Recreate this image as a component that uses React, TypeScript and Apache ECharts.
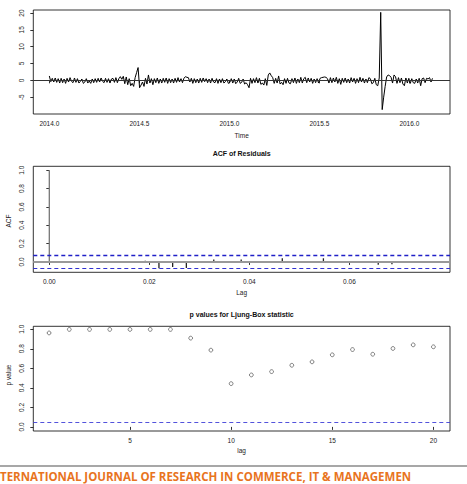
import React, { useEffect, useRef } from "react";
import * as echarts from "echarts";

// ---- Data ----
const residStart = 2014.0;
const residStepDays = 3;
const daysPerYear = 365;
const residuals: number[] = [
  1.3, -0.4, 0.6, -0.5, 0.7, -0.6, 0.5, -0.8, 0.6, -0.7,
  0.4, -0.9, 0.6, -0.5, 0.8, -0.3, -0.7, 0.7, -0.6, 0.5,
  -0.8, -0.3, 0.4, -0.9, -0.5, 0.5, -0.8, -0.2, -0.9, 0.4,
  -0.7, 0.5, -0.6, 0.6, -0.5, 0.7, -0.3, -0.7, 0.6, -0.6,
  0.5, -0.8, 0.4, 0.6, -0.6, 0.8, -0.7, 0.5, 1.1, 0.3,
  1.2, -1.0, 1.0, -1.3, 0.5, -1.6, -0.9, -1.8, 0.8, 2.3,
  3.8, -2.2, -1.4, -0.5, -1.8, 0.6, -1.1, 1.6, -0.8, 0.5,
  -1.3, 0.5, -0.7, 0.7, -0.9, 0.4, -0.8, 0.6, -0.6, 0.7,
  -0.9, 0.5, -0.7, 0.4, -0.8, 0.6, -0.6, 0.8, -0.5, 0.5,
  -0.7, 0.6, 1.1, 0.9, 0.8, -0.5, 0.6, -0.9, 0.5, -0.7,
  0.4, -0.8, 0.6, -0.6, 0.7, -0.4, 0.5, -0.7, 0.4, -0.8,
  0.6, -0.5, -0.7, 0.5, -0.9, 0.4, -0.7, 0.5, -0.8, -0.4,
  0.4, -0.9, -0.6, 0.5, -0.8, 0.4, -1.0, -0.5, 0.6, -0.9,
  -0.6, 0.4, -1.1, -0.7, -1.3, -2.2, 0.6, -0.9, 0.5, -0.7,
  0.8, -0.8, 0.6, -1.2, -0.8, -1.4, 0.5, -1.5, 1.6, 2.2,
  1.4, 0.8, -0.9, 0.6, -0.8, 1.3, -1.1, -0.6, -1.3, 0.5,
  -0.9, 0.6, -0.8, -1.0, 0.5, -0.7, 0.7, -0.9, 0.4, -0.7,
  0.9, -0.8, 0.5, 0.9, -0.7, 0.7, -0.5, 0.6, -0.9, 0.4,
  -0.7, 0.5, -0.8, 0.6, 0.8, 0.9, 1.0, 0.9, 0.5, -0.8,
  0.8, -0.7, 0.7, -0.5, 0.9, -0.9, 0.5, -1.2, 0.6, -0.6,
  0.7, -0.7, 0.4, -0.8, 0.8, -0.5, 0.6, -0.9, 0.5, -0.7,
  0.9, -0.5, 0.6, -0.8, 0.4, -0.7, 0.8, 0.5, -1.0, -0.7,
  0.6, -1.3, -1.6, 0.7, 20.2, -8.7, -5.0, -1.8, 1.0, 1.6,
  1.4, 0.9, -0.8, 1.6, 1.1, -0.9, 0.8, -0.7, 0.7, -1.1,
  -1.6, 0.7, -0.8, 0.6, -0.9, 0.5, -0.7, -0.9, 0.4, -0.8,
  0.6, -1.6, 0.5, 0.7, -0.7, 0.6, 0.4, 0.8, -0.5, 0.6,
];
const timeTicks = [2014.0, 2014.5, 2015.0, 2015.5, 2016.0];
const residTicks = [-5, 0, 5, 10, 15, 20];

const acfLags = [0, 1, 2, 3, 4, 5, 6, 7, 8, 9, 10, 11, 12, 13, 14, 15, 16, 17, 18, 19, 20, 21, 22, 23, 24, 25, 26, 27, 28];
const acfValues = [
  1.0, 0.003, -0.002, 0.008, 0.004, -0.002, -0.004, 0.012, -0.068, -0.055,
  -0.066, -0.005, 0.026, 0.01, 0.026, 0.002, -0.006, 0.04, 0.008, 0.01,
  0.04, -0.006, 0.01, 0.002, -0.03, -0.025, 0.01, -0.012, -0.012,
];
const acfBound = 0.075;
const lagTicks = [0, 0.02, 0.04, 0.06];
const acfTicks = [0, 0.2, 0.4, 0.6, 0.8, 1.0];

const lbLags = [1, 2, 3, 4, 5, 6, 7, 8, 9, 10, 11, 12, 13, 14, 15, 16, 17, 18, 19, 20];
const lbPValues = [
  0.962, 0.998, 0.998, 0.998, 0.998, 0.998, 0.998, 0.909, 0.786, 0.443,
  0.532, 0.566, 0.631, 0.666, 0.738, 0.792, 0.744, 0.803, 0.84, 0.82,
];
const lbLevel = 0.05;
const lbLagTicks = [5, 10, 15, 20];
const pTicks = [0, 0.2, 0.4, 0.6, 0.8, 1.0];

const footerText = "TERNATIONAL JOURNAL OF RESEARCH IN COMMERCE, IT & MANAGEMEN";

// ---- Chart ----
const FONT = "'Liberation Sans', Arial, sans-serif";
const GL = 33.3;
const GW = 416.7;
const CX = GL + GW / 2;

function axis(gridIndex: number, min: number, max: number, ticks: number[], fmt: (v: number) => string, margin: number, rotate = 0) {
  return {
    type: "value",
    gridIndex,
    min,
    max,
    axisLine: { show: false },
    splitLine: { show: false },
    axisTick: { show: true, inside: false, length: 3, customValues: ticks, lineStyle: { color: "#000", width: 0.8 } },
    axisLabel: { customValues: ticks, formatter: fmt, fontSize: 6.5, color: "#222", margin, rotate, fontFamily: FONT },
  };
}

export default function App() {
  const ref = useRef<HTMLDivElement>(null);
  useEffect(() => {
    if (!ref.current) return;
    const chart = echarts.init(ref.current, null, { renderer: "svg" });
    const gridStyle = { show: true, borderColor: "#000", borderWidth: 0.8, backgroundColor: "transparent" };
    const residData = residuals.map((r, i) => [residStart + (i * residStepDays) / daysPerYear, r]);
    const acfData = acfLags.map((l, i) => ({
      value: [l / daysPerYear, acfValues[i]],
      itemStyle: { color: i === 0 ? "#777" : "#222" },
    }));
    const lbData = lbLags.map((l, i) => [l, lbPValues[i]]);
    const option: any = {
      animation: false,
      backgroundColor: "#fff",
      textStyle: { fontFamily: FONT },
      grid: [
        { left: GL, top: 10, width: GW, height: 104, ...gridStyle },
        { left: GL, top: 166.3, width: GW, height: 106, ...gridStyle },
        { left: GL, top: 326.3, width: GW, height: 104.7, ...gridStyle },
      ],
      xAxis: [
        axis(0, 2013.911, 2016.226, timeTicks, (v) => v.toFixed(1), 5.5),
        axis(1, -0.0032, 0.0801, lagTicks, (v) => v.toFixed(2), 6),
        axis(2, 0.22, 20.82, lbLagTicks, (v) => String(v), 6),
      ],
      yAxis: [
        axis(0, -10.0, 20.9, residTicks, (v) => String(v), 8, 90),
        axis(1, -0.113, 1.043, acfTicks, (v) => v.toFixed(1), 8, 90),
        axis(2, -0.042, 1.03, pTicks, (v) => v.toFixed(1), 8, 90),
      ],
      series: [
        {
          type: "line",
          xAxisIndex: 0,
          yAxisIndex: 0,
          data: residData,
          showSymbol: false,
          symbol: "none",
          smooth: false,
          lineStyle: { color: "#000", width: 1 },
          markLine: {
            silent: true,
            symbol: "none",
            label: { show: false },
            lineStyle: { color: "#333", width: 1, type: "solid" },
            data: [{ yAxis: 0 }],
          },
        },
        {
          type: "bar",
          xAxisIndex: 1,
          yAxisIndex: 1,
          data: acfData,
          barWidth: 1.3,
          markLine: {
            silent: true,
            symbol: "none",
            label: { show: false },
            data: [
              { yAxis: 0, lineStyle: { color: "#999", width: 2, type: "solid" } },
              { yAxis: acfBound, lineStyle: { color: "#2020c8", width: 1.4, type: [4, 3] } },
              { yAxis: -acfBound, lineStyle: { color: "#3030d0", width: 1, type: [4, 3] } },
            ],
          },
        },
        {
          type: "scatter",
          xAxisIndex: 2,
          yAxisIndex: 2,
          data: lbData,
          symbol: "circle",
          symbolSize: 3.8,
          itemStyle: { color: "#ffffff", borderColor: "#222222", borderWidth: 0.7 },
          markLine: {
            silent: true,
            symbol: "none",
            label: { show: false },
            lineStyle: { color: "#4040d8", width: 0.9, type: [4, 3] },
            data: [{ yAxis: lbLevel }],
          },
        },
      ],
      graphic: [
        { type: "text", x: CX, y: 135, style: { text: "Time", fontSize: 6.5, fill: "#222", textAlign: "center", textVerticalAlign: "middle", fontFamily: FONT } },
        { type: "text", x: CX, y: 153, style: { text: "ACF of Residuals", fontSize: 7, fontWeight: "bold", fill: "#111", textAlign: "center", textVerticalAlign: "middle", fontFamily: FONT } },
        { type: "text", x: CX, y: 292.3, style: { text: "Lag", fontSize: 6.5, fill: "#222", textAlign: "center", textVerticalAlign: "middle", fontFamily: FONT } },
        { type: "text", x: 8.3, y: 221, rotation: Math.PI / 2, style: { text: "ACF", fontSize: 6.5, fill: "#222", textAlign: "center", textVerticalAlign: "middle", fontFamily: FONT } },
        { type: "text", x: CX, y: 314, style: { text: "p values for Ljung-Box statistic", fontSize: 7, fontWeight: "bold", fill: "#111", textAlign: "center", textVerticalAlign: "middle", fontFamily: FONT } },
        { type: "text", x: 8.3, y: 375, rotation: Math.PI / 2, style: { text: "p value", fontSize: 6.5, fill: "#222", textAlign: "center", textVerticalAlign: "middle", fontFamily: FONT } },
        { type: "text", x: CX, y: 450.5, style: { text: "lag", fontSize: 6.5, fill: "#222", textAlign: "center", textVerticalAlign: "middle", fontFamily: FONT } },
        { type: "line", shape: { x1: 0, y1: 466, x2: 467, y2: 466 }, style: { stroke: "#8a8a8a", lineWidth: 1.5 } },
        { type: "text", x: 0, y: 470.5, style: { text: footerText, fontSize: 11.5, fontWeight: "bold", fill: "#E8741E", textAlign: "left", textVerticalAlign: "top", fontFamily: "'Open Sans', Lato, sans-serif" } },
      ],
    };
    chart.setOption(option);
    return () => chart.dispose();
  }, []);
  return (
    <div
      ref={ref}
      style={{ position: "fixed", left: 0, top: 0, width: 467, height: 484, background: "#fff" }}
    />
  );
}
